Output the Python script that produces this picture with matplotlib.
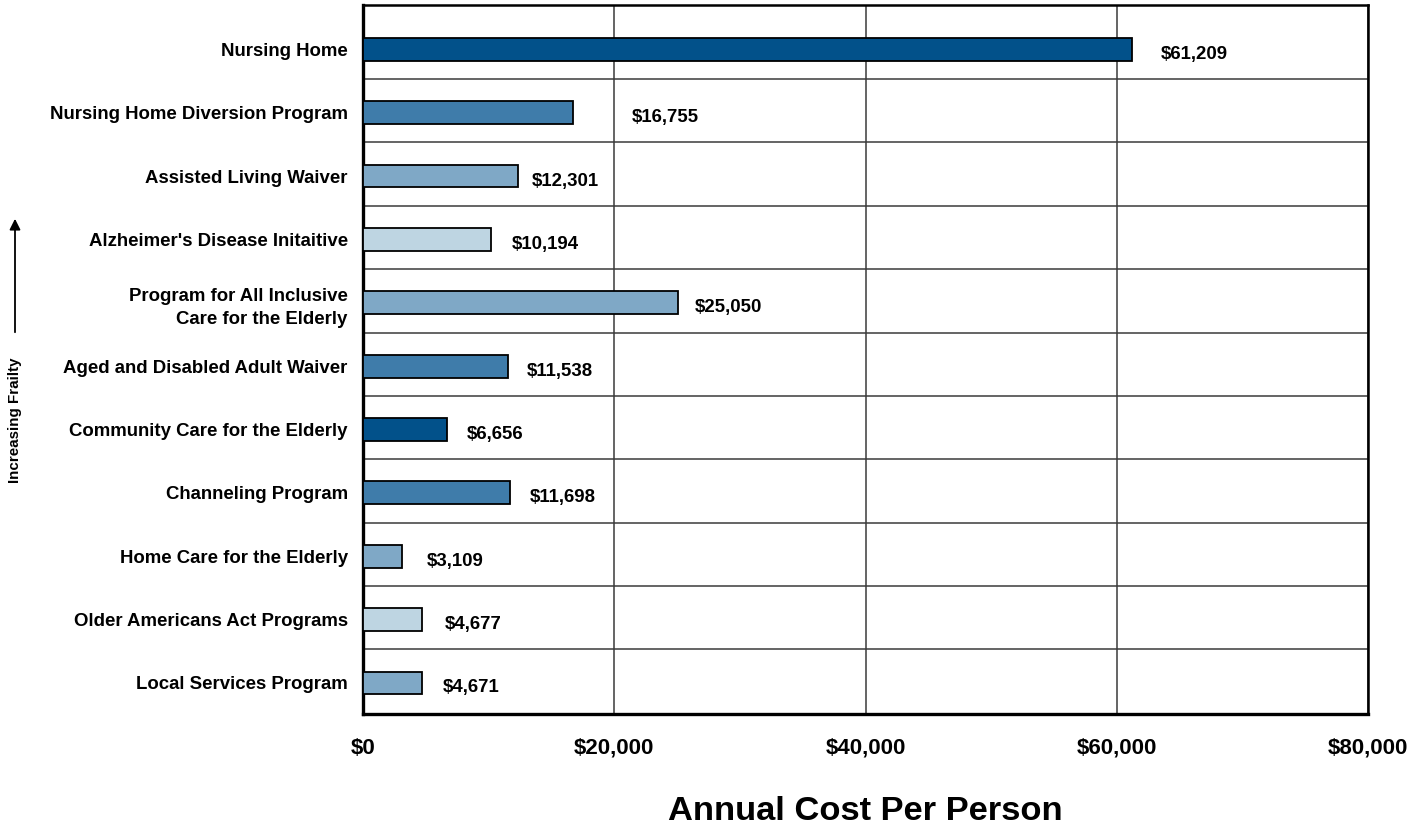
import numpy as np
import matplotlib.pyplot as plt
from matplotlib.ticker import FuncFormatter

plt.rcParams['font.family'] = ['Liberation Sans', 'DejaVu Sans']
plt.rcParams['font.weight'] = 'bold'

# programs, top to bottom (most frail first)
programs = [
    "Nursing Home",
    "Nursing Home Diversion Program",
    "Assisted Living Waiver",
    "Alzheimer's Disease Initaitive",
    "Program for All Inclusive\nCare for the Elderly",
    "Aged and Disabled Adult Waiver",
    "Community Care for the Elderly",
    "Channeling Program",
    "Home Care for the Elderly",
    "Older Americans Act Programs",
    "Local Services Program",
]
annual_cost = [61209, 16755, 12301, 10194, 25050, 11538, 6656, 11698, 3109, 4677, 4671]
shade = ["dark", "medium", "light", "pale", "light", "medium", "dark", "medium", "light", "pale", "light"]

palette = {"dark": "#02518A", "medium": "#3F7CAA", "light": "#7FA8C6", "pale": "#BED5E2"}
# nudges for the value labels, in pixels right of the bar end
label_nudge = [29, 58, 14, 21, 17, 19, 20, 20, 25, 23, 21]

fig = plt.figure(figsize=(14.24, 8.27), dpi=100)
ax = fig.add_axes([363 / 1424, 1 - 714 / 827, (1368 - 363) / 1424, (714 - 5) / 827])

y = np.arange(len(programs))
ax.barh(y, annual_cost, height=0.36, color=[palette[s] for s in shade],
        edgecolor="black", linewidth=1.3, zorder=3)

for yi, v, dx in zip(y, annual_cost, label_nudge):
    ax.annotate("${:,}".format(v), xy=(v, yi), xytext=(dx * 0.72, -5 * 0.72),
                textcoords="offset points", ha="left", va="center",
                fontsize=13.4, fontweight="bold", zorder=4)

ax.set_xlim(0, 80000)
ax.set_ylim(10.49, -0.70)
ax.set_xticks(np.arange(0, 80001, 20000))
ax.xaxis.set_major_formatter(FuncFormatter(lambda v, p: "${:,.0f}".format(v)))
ax.set_yticks(y)
ax.set_yticklabels(programs, ha="right", multialignment="right")
ax.set_yticks(np.arange(10) + 0.47, minor=True)

ax.tick_params(axis="x", length=0, pad=17, labelsize=16)
ax.tick_params(axis="y", which="both", length=0, pad=11, labelsize=13.4)
for lab in ax.get_xticklabels() + ax.get_yticklabels():
    lab.set_fontweight("bold")
for lab in ax.get_yticklabels():
    lab.set_linespacing(1.45)

ax.grid(axis="x", which="major", color="#3a3a3a", linewidth=1.1, zorder=0)
ax.grid(axis="y", which="minor", color="#3a3a3a", linewidth=1.1, zorder=0)
ax.grid(axis="y", which="major", visible=False)

for side in ["top", "right"]:
    ax.spines[side].set_linewidth(1.8)
for side in ["left", "bottom"]:
    ax.spines[side].set_linewidth(2.4)

fig.text(865 / 1424, 1 - 812 / 827, "Annual Cost Per Person", ha="center", va="center",
         fontsize=24.8, fontweight="bold")

# frailty arrow on the far left
fig.text(15 / 1424, 1 - 420 / 827, "Increasing Frailty", rotation=90, ha="center",
         va="center", fontsize=10.9, fontweight="bold")
ax.annotate("", xy=(15 / 1424, 1 - 216 / 827), xytext=(15 / 1424, 1 - 335 / 827),
            xycoords="figure fraction", textcoords="figure fraction",
            arrowprops=dict(arrowstyle="-|>", color="black", lw=1.3, mutation_scale=16))

fig.savefig("out.png", dpi=100)
